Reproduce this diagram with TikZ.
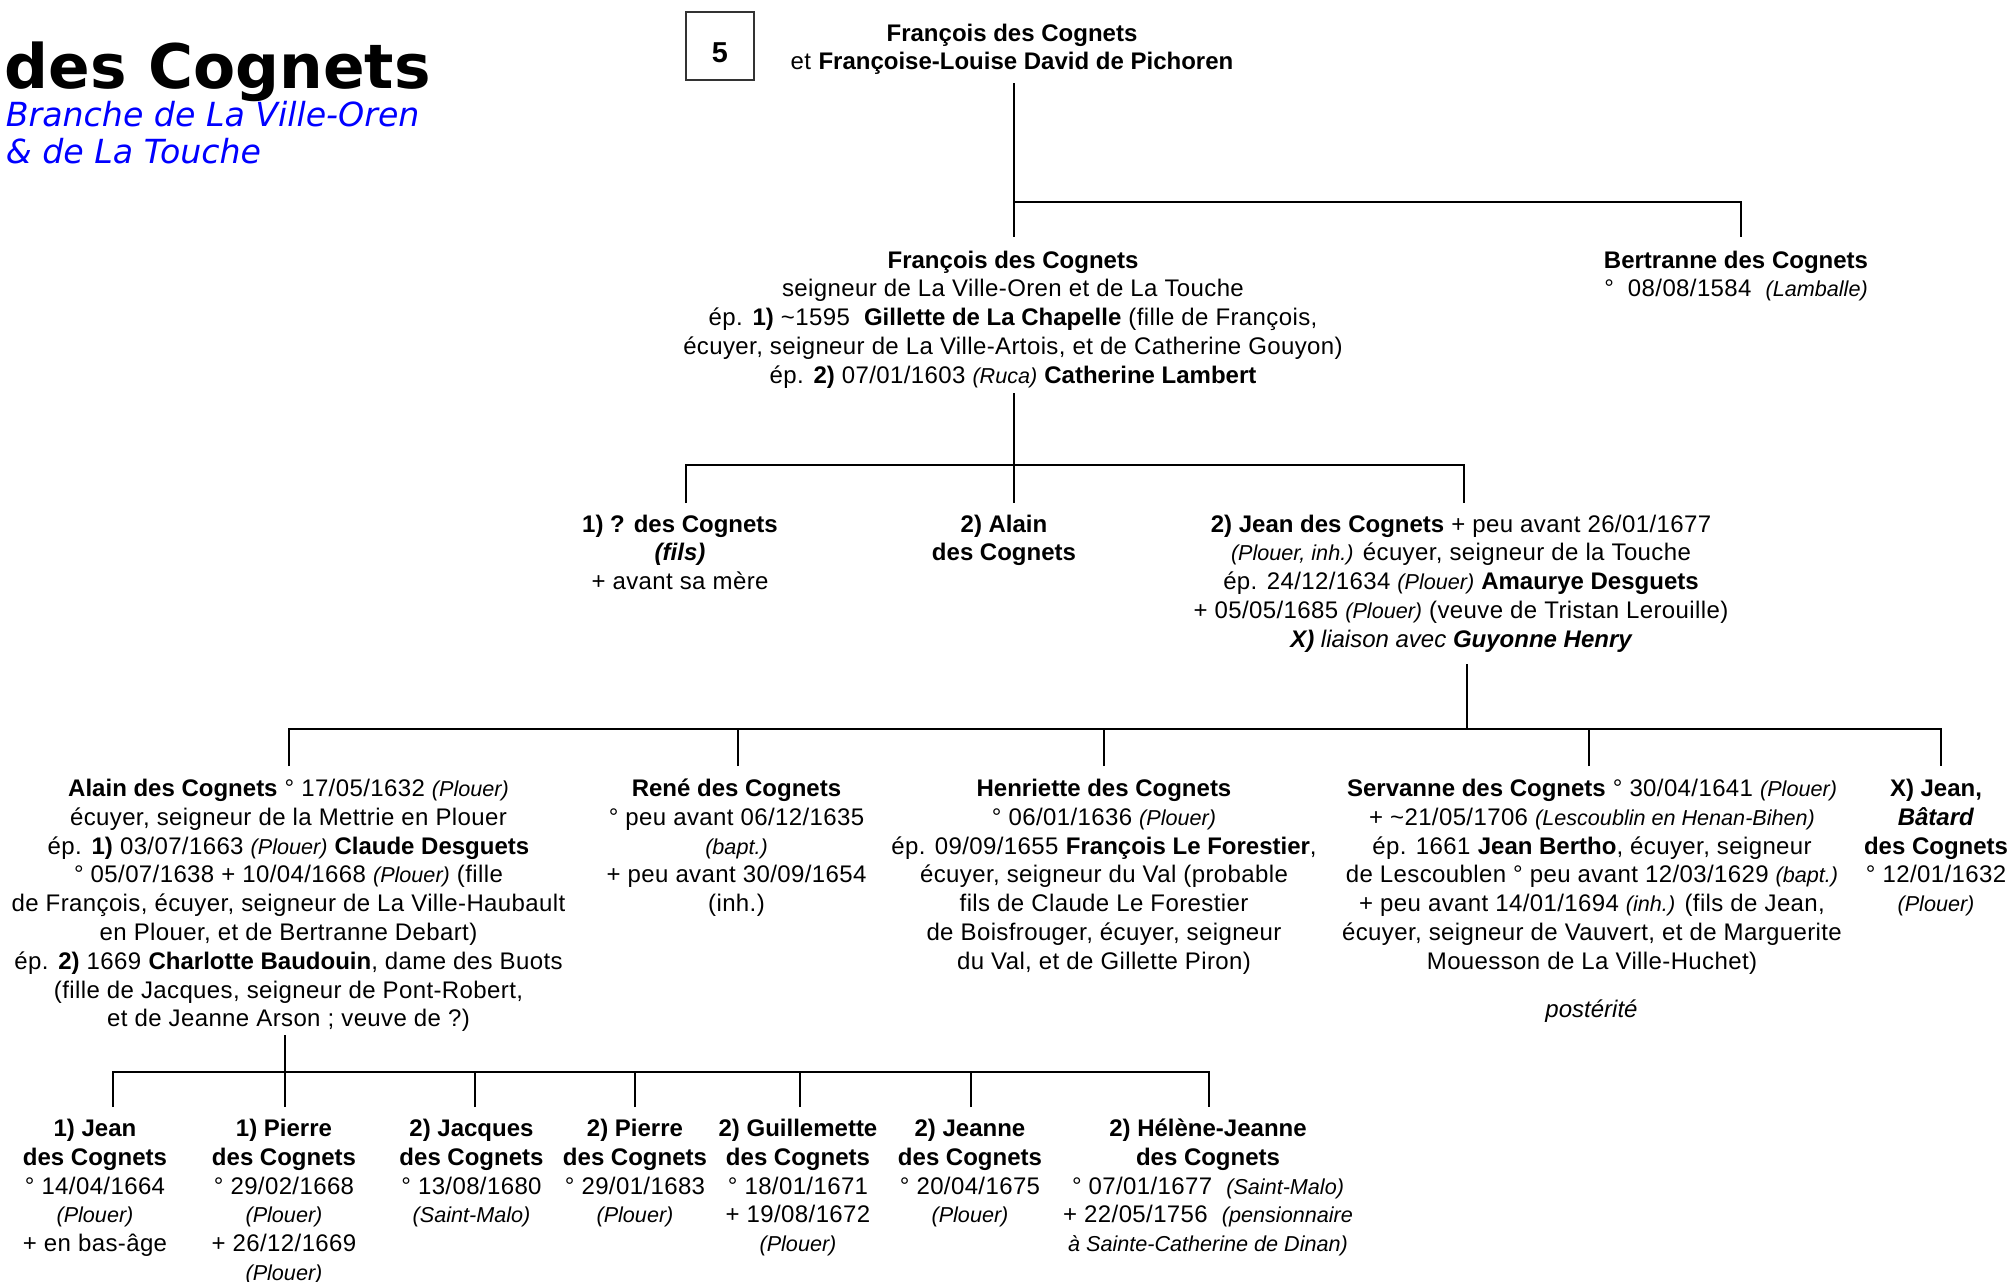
\documentclass[tikz,border=0pt]{standalone}
\usepackage{fontspec}
\setmainfont{Liberation Sans}[UprightFeatures={LetterSpace=1.6}]
\newfontfamily\titlefont{DejaVu Sans}
\newcommand{\smit}[1]{{\fontsize{10.8}{14.4}\selectfont\itshape #1}}
\definecolor{subblue}{RGB}{0,0,255}
\begin{document}
\begin{tikzpicture}[x=0.5pt,y=-0.5pt,
  txt/.style={anchor=north,align=center,inner sep=0pt,font=\fontsize{12}{14.4}\selectfont},
  ln/.style={line width=1.25pt,line join=miter}]
\useasboundingbox (0,0) rectangle (2013,1281);

% title
\node[anchor=base west,inner sep=0pt,font=\titlefont\bfseries\fontsize{30.7}{36}\selectfont] (title) at (4.5,88) {des Cognets};
\node[anchor=base west,inner sep=0pt,text=subblue,font=\titlefont\itshape\fontsize{16.6}{18.5}\selectfont] (sub1) at (5.5,126) {Branche de La Ville-Oren};
\node[anchor=base west,inner sep=0pt,text=subblue,font=\titlefont\itshape\fontsize{16.6}{18.5}\selectfont] (sub2) at (5.5,163) {\& de La Touche};

% box 5
\node[draw=black!80,line width=0.7pt,minimum width=34pt,minimum height=34pt,inner sep=0pt,
  text height=17pt,text depth=0.5pt,font=\bfseries\fontsize{14.4}{16}\selectfont] (box5) at (720,46) {5};

% generation 1
\node[txt] (top) at (1012,20.5) {\strut\textbf{François des Cognets}\\et \textbf{Françoise-Louise David de Pichoren}};

% generation 2
\node[txt] (francois) at (1013,247.5) {\strut\textbf{François des Cognets}\\
seigneur de La Ville-Oren et de La Touche\\
ép. \textbf{1)} \textasciitilde1595\ \ \textbf{Gillette de La Chapelle} (fille de François,\\
écuyer, seigneur de La Ville-Artois, et de Catherine Gouyon)\\
ép. \textbf{2)} 07/01/1603 \smit{(Ruca)} \textbf{Catherine Lambert}};
\node[txt] (bertranne) at (1736,247.5) {\strut\textbf{Bertranne des Cognets}\\
°\ \ 08/08/1584\ \ \smit{(Lamballe)}};

% generation 3
\node[txt] (c1) at (680,511.5) {\strut\textbf{1) ? des Cognets}\\\textbf{\itshape (fils)}\\+ avant sa mère};
\node[txt] (c2) at (1004,511.5) {\strut\textbf{2) Alain}\\\textbf{des Cognets}};
\node[txt] (jean) at (1461,511.5) {\strut\textbf{2) Jean des Cognets} + peu avant 26/01/1677\\
\smit{(Plouer, inh.)} écuyer, seigneur de la Touche\\
ép. 24/12/1634 \smit{(Plouer)} \textbf{Amaurye Desguets}\\
+ 05/05/1685 \smit{(Plouer)} (veuve de Tristan Lerouille)\\
{\itshape\textbf{X)} liaison avec \textbf{Guyonne Henry}}};

% generation 4
\node[txt] (alain) at (288.5,776) {\strut\textbf{Alain des Cognets} ° 17/05/1632 \smit{(Plouer)}\\
écuyer, seigneur de la Mettrie en Plouer\\
ép. \textbf{1)} 03/07/1663 \smit{(Plouer)} \textbf{Claude Desguets}\\
° 05/07/1638 + 10/04/1668 \smit{(Plouer)} (fille\\
de François, écuyer, seigneur de La Ville-Haubault\\
en Plouer, et de Bertranne Debart)\\
ép. \textbf{2)} 1669 \textbf{Charlotte Baudouin}, dame des Buots\\
(fille de Jacques, seigneur de Pont-Robert,\\
et de Jeanne Arson ; veuve de ?)};
\node[txt] (rene) at (736.5,776) {\strut\textbf{René des Cognets}\\
° peu avant 06/12/1635\\\smit{(bapt.)}\\+ peu avant 30/09/1654\\(inh.)};
\node[txt] (henriette) at (1104,776) {\strut\textbf{Henriette des Cognets}\\
° 06/01/1636 \smit{(Plouer)}\\
ép. 09/09/1655 \textbf{François Le Forestier},\\
écuyer, seigneur du Val (probable\\
fils de Claude Le Forestier\\
de Boisfrouger, écuyer, seigneur\\
du Val, et de Gillette Piron)};
\node[txt] (servanne) at (1592,776) {\strut\textbf{Servanne des Cognets} ° 30/04/1641 \smit{(Plouer)}\\
+ \textasciitilde21/05/1706 \smit{(Lescoublin en Henan-Bihen)}\\
ép. 1661 \textbf{Jean Bertho}, écuyer, seigneur\\
de Lescoublen ° peu avant 12/03/1629 \smit{(bapt.)}\\
+ peu avant 14/01/1694 \smit{(inh.)} (fils de Jean,\\
écuyer, seigneur de Vauvert, et de Marguerite\\
Mouesson de La Ville-Huchet)};
\node[txt] (post) at (1591.5,997) {\strut\itshape postérité};
\node[txt] (xjean) at (1936,776) {\strut\textbf{X) Jean,}\\\textbf{\itshape Bâtard}\\\textbf{des Cognets}\\° 12/01/1632\\\smit{(Plouer)}};

% generation 5
\node[txt] (g1) at (95,1116) {\strut\textbf{1) Jean}\\\textbf{des Cognets}\\° 14/04/1664\\\smit{(Plouer)}\\+ en bas-âge};
\node[txt] (g2) at (284,1116) {\strut\textbf{1) Pierre}\\\textbf{des Cognets}\\° 29/02/1668\\\smit{(Plouer)}\\+ 26/12/1669\\\smit{(Plouer)}};
\node[txt] (g3) at (471.5,1116) {\strut\textbf{2) Jacques}\\\textbf{des Cognets}\\° 13/08/1680\\\smit{(Saint-Malo)}};
\node[txt] (g4) at (635,1116) {\strut\textbf{2) Pierre}\\\textbf{des Cognets}\\° 29/01/1683\\\smit{(Plouer)}};
\node[txt] (g5) at (798,1116) {\strut\textbf{2) Guillemette}\\\textbf{des Cognets}\\° 18/01/1671\\+ 19/08/1672\\\smit{(Plouer)}};
\node[txt] (g6) at (970,1116) {\strut\textbf{2) Jeanne}\\\textbf{des Cognets}\\° 20/04/1675\\\smit{(Plouer)}};
\node[txt] (g7) at (1208,1116) {\strut\textbf{2) Hélène-Jeanne}\\\textbf{des Cognets}\\° 07/01/1677\ \ \smit{(Saint-Malo)}\\+ 22/05/1756\ \ \smit{(pensionnaire}\\\smit{à Sainte-Catherine de Dinan)}};

% connector points
\coordinate (a0) at (1014,83);
\coordinate (a1) at (1014,237);
\coordinate (a2) at (1014,202);
\coordinate (a3) at (1741,202);
\coordinate (a4) at (1741,237);

\coordinate (b0) at (1014,393);
\coordinate (b1) at (1014,503);
\coordinate (b2) at (686,503);
\coordinate (b3) at (686,465);
\coordinate (b4) at (1464,465);
\coordinate (b5) at (1464,503);

\coordinate (c0) at (1467,664);
\coordinate (c1) at (1467,729);
\coordinate (cl) at (289,766);
\coordinate (cr) at (1941,766);
\coordinate (d2) at (738,766);
\coordinate (d3) at (1104,766);
\coordinate (d4) at (1589,766);

\coordinate (e0) at (285,1035);
\coordinate (e1) at (285,1107);
\coordinate (el) at (113,1107);
\coordinate (er) at (1209,1107);
\coordinate (f3) at (475,1107);
\coordinate (f4) at (635,1107);
\coordinate (f5) at (800,1107);
\coordinate (f6) at (971,1107);

% connectors
\draw[ln] (a0) -- (a1);
\draw[ln] (a2) -- (a3) -- (a4);

\draw[ln] (b0) -- (b1);
\draw[ln] (b2) -- (b3) -- (b4) -- (b5);

\draw[ln] (c0) -- (c1);
\draw[ln] (cl) |- (c1) -| (cr);
\draw[ln] (d2) -- (d2 |- c1);
\draw[ln] (d3) -- (d3 |- c1);
\draw[ln] (d4) -- (d4 |- c1);

\draw[ln] (e0) -- (e1);
\draw[ln] (el) -- (113,1072) -- (1209,1072) -- (er);
\draw[ln] (f3) -- (475,1072);
\draw[ln] (f4) -- (635,1072);
\draw[ln] (f5) -- (800,1072);
\draw[ln] (f6) -- (971,1072);
\end{tikzpicture}
\end{document}
